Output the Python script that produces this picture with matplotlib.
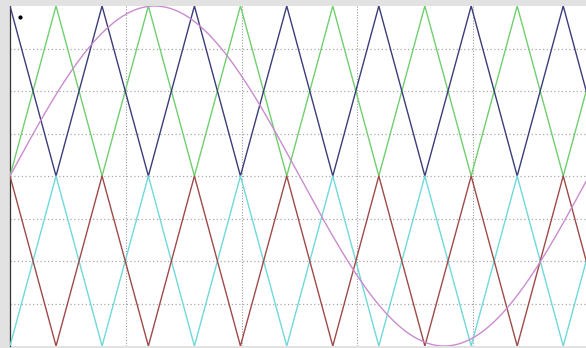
import numpy as np
import matplotlib
matplotlib.use("Agg")
import matplotlib.pyplot as plt

# Time axis in milliseconds (one 50 Hz fundamental period)
t_start_ms = 0.0
t_end_ms = 20.0

# Carrier vertex times (ms): alternating peaks/troughs of the triangular carriers
carrier_vertex_ms = [0.0, 1.59, 3.18, 4.78, 6.37, 7.96, 9.56, 11.15,
                     12.74, 14.33, 15.93, 17.52, 19.11, 20.70]

# Vertex levels of the four level-shifted carriers
upper_a_levels = [1, 0, 1, 0, 1, 0, 1, 0, 1, 0, 1, 0, 1, 0]      # navy
upper_b_levels = [0, 1, 0, 1, 0, 1, 0, 1, 0, 1, 0, 1, 0, 1]      # green
lower_a_levels = [0, -1, 0, -1, 0, -1, 0, -1, 0, -1, 0, -1, 0, -1]  # red
lower_b_levels = [-1, 0, -1, 0, -1, 0, -1, 0, -1, 0, -1, 0, -1, 0]  # cyan

# Sinusoidal reference
ref_amplitude = 1.0
ref_freq_hz = 50.0

# Marker near the upper-left corner
marker_t_ms = [0.35]
marker_val = [0.935]

# Horizontal and vertical grid positions
y_grid = [-0.75, -0.5, -0.25, 0.0, 0.25, 0.5, 0.75]
x_grid = [4.0, 8.0, 12.0, 16.0]

W, H = 586, 348
fig = plt.figure(figsize=(W / 100, H / 100), dpi=100, facecolor="#e2e2e2")
ax = fig.add_axes([10 / W, 2 / H, 579 / W, 340 / H])
ax.set_facecolor("white")

t = np.linspace(t_start_ms, t_end_ms + 0.5, 2000)
ref = ref_amplitude * np.sin(2 * np.pi * ref_freq_hz * t / 1000.0)

for yv in y_grid:
    ax.axhline(yv, color="#a8a8a8", lw=0.9, ls=(0, (1, 2)), zorder=1)
for xv in x_grid:
    ax.axvline(xv, color="#9a9a9a", lw=0.8, ls=(0, (1, 1.5)), zorder=1)

ax.plot(carrier_vertex_ms, upper_b_levels, color="#6fcf6f", lw=1.0, zorder=3)
ax.plot(carrier_vertex_ms, upper_a_levels, color="#3a3d78", lw=1.0, zorder=3)
ax.plot(carrier_vertex_ms, lower_b_levels, color="#6fd9d9", lw=1.0, zorder=3)
ax.plot(carrier_vertex_ms, lower_a_levels, color="#9e4a48", lw=1.0, zorder=3)
ax.plot(t, ref, color="#c98ccf", lw=1.0, zorder=4)
ax.plot(marker_t_ms, marker_val, "o", color="black", ms=2, zorder=5)

ax.set_xlim(t_start_ms, t_end_ms)
ax.set_ylim(-1.0, 1.0)
ax.set_xticks([])
ax.set_yticks([])
for side in ("top", "right", "bottom"):
    ax.spines[side].set_visible(False)
ax.spines["left"].set_color("#333333")
ax.spines["left"].set_linewidth(0.9)

fig.savefig("out.png", dpi=100, facecolor=fig.get_facecolor())
